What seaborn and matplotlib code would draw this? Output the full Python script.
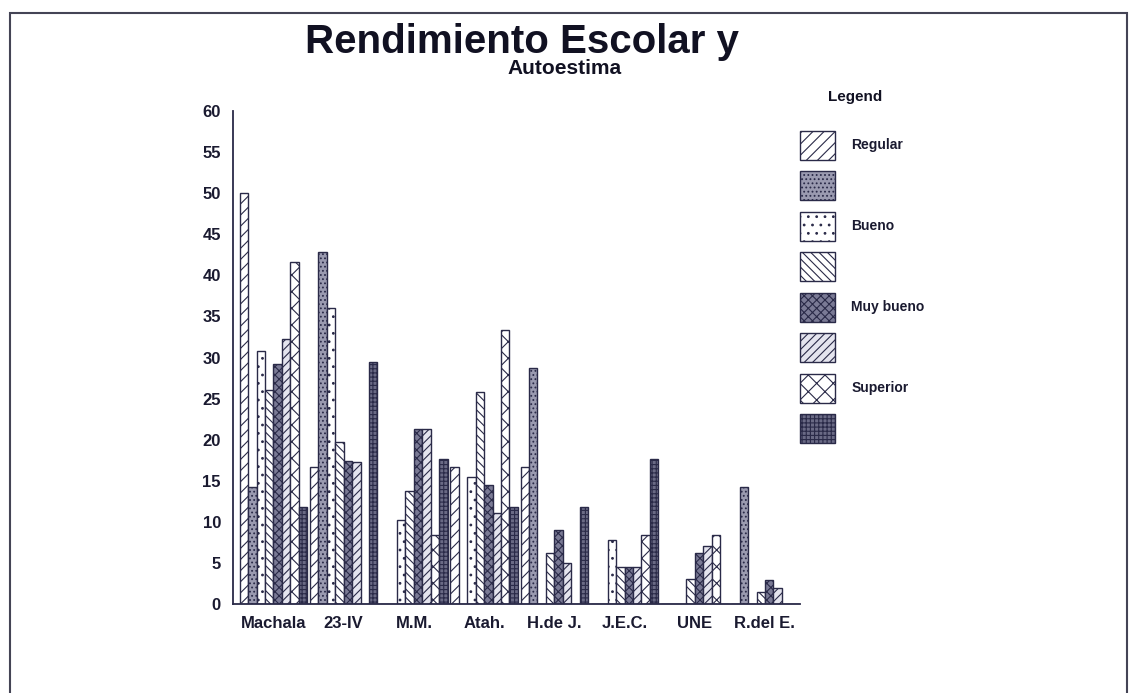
import matplotlib
matplotlib.use("Agg")
import matplotlib.pyplot as plt
from matplotlib.patches import Patch, Rectangle
import pandas as pd
import seaborn as sns

# Datos
escuelas = ["Machala", "23-IV", "M.M.", "Atah.", "H.de J.", "J.E.C.", "UNE", "R.del E."]
series = ["Regular", "Serie 2", "Bueno", "Serie 4", "Muy bueno", "Serie 6", "Superior", "Serie 8"]
etiquetas = ["Regular", "", "Bueno", "", "Muy bueno", "", "Superior", ""]

regular = [50, 16.7, 0, 16.7, 16.7, 0, 0, 0]
serie2 = [14.3, 42.8, 0, 0, 28.7, 0, 0, 14.3]
bueno = [30.8, 36, 10.2, 15.5, 0, 7.8, 0, 0]
serie4 = [26, 19.7, 13.7, 25.8, 6.2, 4.5, 3.1, 1.5]
muy_bueno = [29.2, 17.4, 21.3, 14.5, 9.0, 4.5, 6.2, 2.9]
serie6 = [32.3, 17.3, 21.3, 11.1, 5.0, 4.5, 7.1, 1.9]
superior = [41.6, 0, 8.4, 33.3, 0, 8.4, 8.4, 0]
serie8 = [11.8, 29.4, 17.6, 11.8, 11.8, 17.6, 0, 0]

valores = [regular, serie2, bueno, serie4, muy_bueno, serie6, superior, serie8]

# estilos de cada serie
tinta = "#2a2a48"
rellenos = ["white", "#9a9ab0", "white", "white", "#7a7a95", "#e4e4ee", "white", "#6a6a85"]
tramas = ["///", "....", "..", "\\\\\\\\", "xxxx", "////", "xx", "++++"]

filas = []
for s, vals in zip(series, valores):
    for e, v in zip(escuelas, vals):
        filas.append({"escuela": e, "serie": s, "valor": v})
df = pd.DataFrame(filas)

sns.set_style("white")
plt.rcParams["font.family"] = ["Liberation Sans", "DejaVu Sans"]
plt.rcParams["hatch.linewidth"] = 0.8
plt.rcParams["hatch.color"] = tinta

fig = plt.figure(figsize=(11.3, 6.93), dpi=100)
ax = fig.add_axes([0.206, 0.1284, 0.502, 0.7114])

sns.barplot(data=df, x="escuela", y="valor", hue="serie", order=escuelas,
            hue_order=series, palette=rellenos, saturation=1, width=0.96,
            legend=False, ax=ax)

for cont, trama in zip(ax.containers, tramas):
    for barra in cont:
        barra.set_hatch(trama)
        barra.set_edgecolor(tinta)
        barra.set_linewidth(1.0)

ax.set_xlim(-0.58, 7.5)
ax.set_ylim(0, 60)
ax.set_yticks(range(0, 61, 5))
ax.set_xlabel("")
ax.set_ylabel("")
sns.despine(ax=ax)
for lado in ["left", "bottom"]:
    ax.spines[lado].set_color(tinta)
    ax.spines[lado].set_linewidth(1.3)
ax.tick_params(axis="both", direction="out", length=5, width=1.2, color=tinta,
               labelsize=12, labelcolor="#1a1a30")
for lab in ax.get_xticklabels() + ax.get_yticklabels():
    lab.set_fontweight("bold")

# titulos
fig.text(0.462, 1 - 42 / 693, "Rendimiento Escolar y", ha="center", va="center",
         fontsize=29, fontweight="bold", color="#111122")
fig.text(0.50, 1 - 69 / 693, "Autoestima", ha="center", va="center",
         fontsize=15, fontweight="bold", color="#111122")
fig.text(0.757, 1 - 97 / 693, "Legend", ha="center", va="center",
         fontsize=11, fontweight="bold", color="#111122")

# leyenda
manejadores = [Patch(facecolor=f, edgecolor=tinta, hatch=h, linewidth=1.0)
               for f, h in zip(rellenos, tramas)]
ley = fig.legend(manejadores, etiquetas, loc="upper left",
                 bbox_to_anchor=(800 / 1130, 1 - 131 / 693), frameon=False,
                 borderpad=0, borderaxespad=0, handlelength=2.5, handleheight=2.8,
                 labelspacing=0.85, handletextpad=1.2, fontsize=10)
for t in ley.get_texts():
    t.set_fontweight("bold")
    t.set_color("#1a1a30")

# marco del escaneo
fig.patches.append(Rectangle((10 / 1130, -0.02), 1117 / 1130, 1 - 13 / 693 + 0.02,
                             transform=fig.transFigure, fill=False,
                             edgecolor="#444455", linewidth=1.5))

fig.savefig("out.png", dpi=100)
